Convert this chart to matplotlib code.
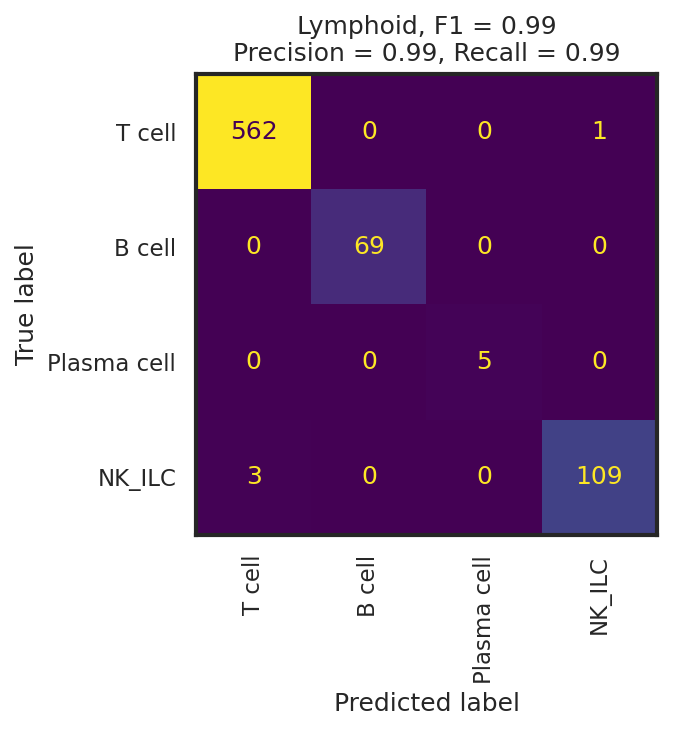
import numpy as np
import matplotlib
matplotlib.use("Agg")
import matplotlib.pyplot as plt
import seaborn as sns

sns.set_theme(style="white")

labels = ["T cell", "B cell", "Plasma cell", "NK_ILC"]
counts = np.array([
    [562, 0, 0, 1],
    [0, 69, 0, 0],
    [0, 0, 5, 0],
    [3, 0, 0, 109],
])
title = "Lymphoid, F1 = 0.99\nPrecision = 0.99, Recall = 0.99"

fig = plt.figure(figsize=(673 / 150, 732 / 150), dpi=150)
ax = fig.add_axes([196 / 673, 1 - 535 / 732, 461 / 673, 461 / 732])

cmap = plt.get_cmap("viridis")
ax.imshow(counts, cmap=cmap, interpolation="nearest")
thresh = (counts.max() + counts.min()) / 2.0
for i in range(counts.shape[0]):
    for j in range(counts.shape[1]):
        color = cmap(0) if counts[i, j] > thresh else cmap(1.0)
        ax.text(j, i, str(counts[i, j]), ha="center", va="center", color=color, fontsize=12)

ax.set_xticks(range(len(labels)))
ax.set_yticks(range(len(labels)))
ax.set_xticklabels(labels, rotation=90)
ax.set_yticklabels(labels)
ax.set_xlabel("Predicted label")
ax.set_ylabel("True label")
ax.set_title(title)
for s in ax.spines.values():
    s.set_linewidth(2)
    s.set_edgecolor(".15")

fig.savefig("out.png", dpi=150)
